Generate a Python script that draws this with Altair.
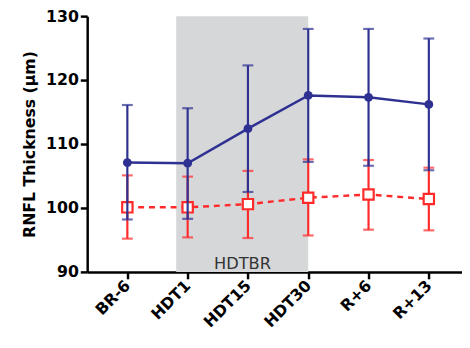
import altair as alt
import pandas as pd

categories = ["BR-6", "HDT1", "HDT15", "HDT30", "R+6", "R+13"]
blue_mean = [107.1, 107.0, 112.4, 117.6, 117.3, 116.2]
blue_upper = [116.1, 115.6, 122.3, 128.0, 128.0, 126.5]
blue_lower = [98.2, 98.3, 102.5, 107.2, 106.6, 105.9]
red_mean = [100.1, 100.1, 100.6, 101.6, 102.1, 101.4]
red_upper = [105.1, 104.9, 105.8, 107.6, 107.5, 106.3]
red_lower = [95.2, 95.4, 95.3, 95.7, 96.6, 96.5]
band_label = "HDTBR"

BLUE = "#2E3192"
RED = "#FF2A2A"
FONT = "DejaVu Sans"

idx = list(range(len(categories)))
blue = pd.DataFrame({"i": idx, "mean": blue_mean, "lo": blue_lower, "hi": blue_upper})
red = pd.DataFrame({"i": idx, "mean": red_mean, "lo": red_lower, "hi": red_upper})
band = pd.DataFrame({"x": [0.81], "x2": [3.0], "y": [90], "y2": [130], "lx": [1.91], "ly": [91.3], "t": [band_label]})

label_expr = "[" + ",".join(f"'{c}'" for c in categories) + "][datum.value]"

xscale = alt.Scale(domain=[-0.666, 5.55], nice=False, zero=False)
yscale = alt.Scale(domain=[90, 130], nice=False, zero=False)

xax = alt.Axis(values=idx, labelExpr=label_expr, labelAngle=-45, labelAlign="right",
               labelBaseline="middle", labelFont=FONT, labelFontWeight="bold",
               labelFontSize=16, labelColor="black", domainColor="black", domainWidth=2.5,
               tickColor="black", tickWidth=2.5, tickSize=7, grid=False, title=None, labelPadding=4)
yax = alt.Axis(values=[90, 100, 110, 120, 130], labelFont=FONT, labelFontWeight="bold",
               labelFontSize=16, labelColor="black", domainColor="black", domainWidth=2.5,
               tickColor="black", tickWidth=2.5, tickSize=7, grid=False,
               title="RNFL Thickness (μm)", titleFont=FONT, titleFontSize=16,
               titleFontWeight="bold", titleColor="black", titlePadding=8)

rect = alt.Chart(band).mark_rect(color="#D6D7D9").encode(
    x=alt.X("x:Q", scale=xscale, axis=xax), x2="x2:Q",
    y=alt.Y("y:Q", scale=yscale, axis=yax), y2="y2:Q")
txt = alt.Chart(band).mark_text(font=FONT, fontSize=16.5, color="#333333", baseline="middle").encode(
    x=alt.X("lx:Q", scale=xscale), y=alt.Y("ly:Q", scale=yscale), text="t:N")

def series(df, color, dash, shape, filled, size):
    base = alt.Chart(df)
    rule = base.mark_rule(color=color, strokeWidth=2.2).encode(
        x=alt.X("i:Q", scale=xscale), y=alt.Y("lo:Q", scale=yscale), y2="hi:Q")
    cap_hi = base.mark_tick(color=color, thickness=2.2, size=11, orient="horizontal").encode(
        x=alt.X("i:Q", scale=xscale), y=alt.Y("hi:Q", scale=yscale))
    cap_lo = base.mark_tick(color=color, thickness=2.2, size=11, orient="horizontal").encode(
        x=alt.X("i:Q", scale=xscale), y=alt.Y("lo:Q", scale=yscale))
    line_kw = dict(color=color, strokeWidth=2.5)
    if dash:
        line_kw["strokeDash"] = dash
    line = base.mark_line(**line_kw).encode(
        x=alt.X("i:Q", scale=xscale), y=alt.Y("mean:Q", scale=yscale))
    pts = base.mark_point(shape=shape, filled=filled, size=size, color=color,
                          fill=color if filled else "white", strokeWidth=2.2, opacity=1).encode(
        x=alt.X("i:Q", scale=xscale), y=alt.Y("mean:Q", scale=yscale))
    return [rule, cap_hi, cap_lo, line, pts]

layers = [rect, txt] + series(red, RED, [6, 5], "square", False, 110) + series(blue, BLUE, None, "circle", True, 80)

chart = alt.layer(*layers).properties(
    width=381, height=260,
    autosize=alt.AutoSizeParams(type="none"),
    padding={"left": 80.5, "top": 5.5, "right": 0, "bottom": 70},
).configure_view(stroke=None)

chart.save("out.html", embed_options={"renderer": "svg", "actions": False})
